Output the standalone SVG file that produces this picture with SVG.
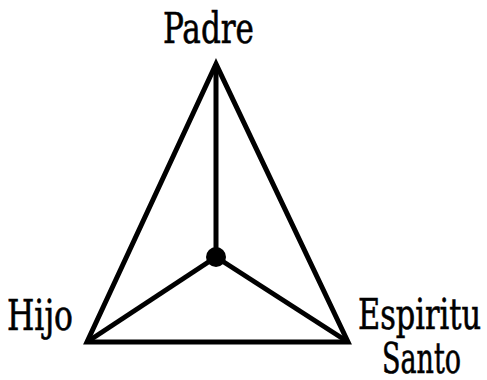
<svg xmlns="http://www.w3.org/2000/svg" width="487" height="380" viewBox="0 0 487 380">
<style>
.lbl{font-family:"DejaVu Serif Condensed","DejaVu Serif",serif;font-size:43px;fill:#000;stroke:#000;stroke-width:0.6}
.ln{stroke:#000;stroke-width:5;fill:none;stroke-linejoin:miter;stroke-miterlimit:10}
</style>
<rect width="487" height="380" fill="#fff"/>
<g id="connectors">
<polygon class="ln" points="216,64 87,342 348,342"/>
<line class="ln" x1="216" y1="64" x2="216" y2="257"/>
<line class="ln" x1="216" y1="257" x2="87" y2="342"/>
<line class="ln" x1="216" y1="257" x2="348" y2="342"/>
</g>
<g id="center"><circle cx="216" cy="257" r="10" fill="#000"/></g>
<g id="padre"><text class="lbl" x="163" y="43" textLength="91" lengthAdjust="spacingAndGlyphs">Padre</text></g>
<g id="hijo"><text class="lbl" x="7" y="330" textLength="66" lengthAdjust="spacingAndGlyphs">Hijo</text></g>
<g id="espiritu"><text class="lbl" x="358" y="329" textLength="123" lengthAdjust="spacingAndGlyphs">Espiritu</text>
<text class="lbl" x="382" y="373" textLength="79" lengthAdjust="spacingAndGlyphs">Santo</text></g>
</svg>
